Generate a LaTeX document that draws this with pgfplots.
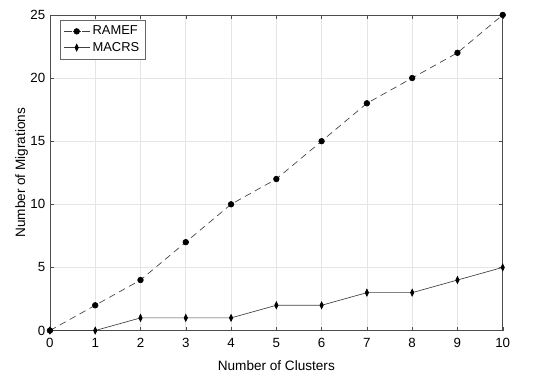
\documentclass[border=0pt]{standalone}
\usepackage{pgfplots}
\pgfplotsset{compat=1.18}
\usepackage{fontspec}
\setmainfont{Liberation Sans}
\begin{document}
\begin{tikzpicture}
\useasboundingbox (-37.5pt,-35.2pt) rectangle (375.5pt,248.2pt);
\begin{axis}[
  at={(0,0)}, anchor=south west,
  scale only axis,
  width=340pt, height=237pt,
  xmin=0, xmax=10, ymin=0, ymax=25,
  xtick={0,1,...,10}, ytick={0,5,10,15,20,25},
  tick align=inside,
  tick pos=both,
  major tick length=3pt,
  grid=major,
  grid style={gray!20, line width=0.5pt},
  axis line style={black!70, line width=0.5pt},
  tick style={black!70},
  ticklabel style={font=\fontsize{10}{11}\selectfont},
  xticklabel style={yshift=-2pt},
  /pgf/number format/assume math mode=true,
  xlabel={Number of Clusters},
  ylabel={Number of Migrations},
  label style={font=\fontsize{10.2}{12}\selectfont},
  xlabel style={yshift=-3pt},
  ylabel style={yshift=-5pt},
  legend style={font=\fontsize{9.7}{11}\selectfont, draw=black!60, line width=0.4pt, inner sep=2.5pt, row sep=0pt, at={(0.022,0.985)}, anchor=north west},
  legend cell align=left,
  legend image code/.code={\draw[mark repeat=2,mark phase=2] plot coordinates {(0cm,0cm)(0.34cm,0cm)(0.68cm,0cm)};},
]
\addplot[black!75, dashed, dash pattern=on 5pt off 3.5pt, line width=0.5pt, mark=*, mark size=2.1pt, mark options={solid, fill=black, draw=black}, legend image post style={dash pattern=on 6pt off 1pt}]
 coordinates {(0,0)(1,2)(2,4)(3,7)(4,10)(5,12)(6,15)(7,18)(8,20)(9,22)(10,25)};
\addlegendentry{RAMEF}
\addplot[black!75, solid, line width=0.5pt, mark=diamond*, mark size=2.6pt, mark options={fill=black, draw=black, xscale=0.65}]
 coordinates {(0,0)(1,0)(2,1)(3,1)(4,1)(5,2)(6,2)(7,3)(8,3)(9,4)(10,5)};
\addlegendentry{MACRS}
\end{axis}
\end{tikzpicture}
\end{document}
